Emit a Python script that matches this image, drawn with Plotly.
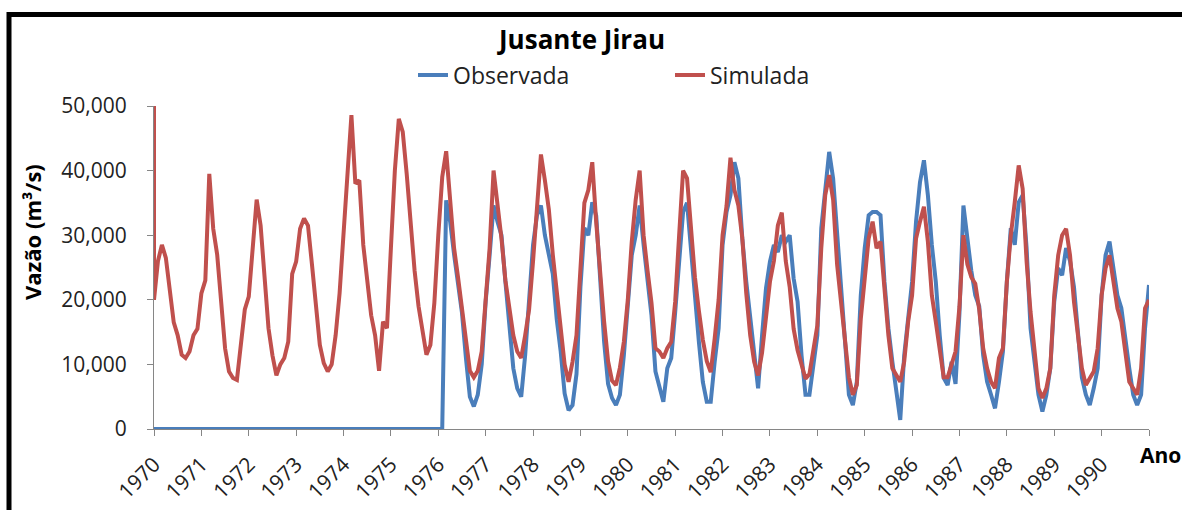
import plotly.graph_objects as go

# ---------------- data (monthly values) ----------------
year_labels = [str(y) for y in range(1970, 1991)] + [""]
year_ticks = list(range(1970, 1992))

sim_start_spike = 50000  # first value of the simulated series (1970.0)

simulada = (
    [20000, 26000, 28500, 26500, 21000, 16500, 14500, 11500, 11000, 12000, 14500, 15500]  # 1970
    + [21000, 23000, 39500, 31000, 27000, 19700, 12500, 8900, 7900, 7600, 12500, 18500]  # 1971
    + [20500, 29000, 35500, 31500, 22800, 15600, 11400, 8300, 10000, 11000, 13500, 24000]  # 1972
    + [25900, 31000, 32600, 31500, 25500, 18500, 13000, 10200, 8900, 10000, 14500, 21000]  # 1973
    + [30000, 41000, 48600, 38000, 38500, 28500, 22800, 17600, 14500, 9000, 16600, 15600]  # 1974
    + [28000, 40000, 48000, 46000, 39500, 32000, 24500, 19000, 15000, 11500, 13000, 19500]  # 1975
    + [30000, 39000, 43000, 36000, 28000, 23500, 18500, 13500, 9000, 8000, 9000, 12000]  # 1976
    + [20000, 28000, 40000, 35000, 29500, 23000, 18500, 14500, 12000, 11000, 14500, 18500]  # 1977
    + [26000, 34000, 42500, 38500, 34000, 27000, 21000, 16000, 10000, 7300, 10400, 14500]  # 1978
    + [26000, 35000, 37000, 41300, 32000, 23300, 16600, 10500, 7500, 6800, 9500, 13500]  # 1979
    + [20000, 29000, 35500, 40000, 30000, 24500, 19500, 12500, 12000, 11000, 12500, 13500]  # 1980
    + [19700, 30000, 40000, 38800, 31500, 23500, 18300, 13800, 10500, 8800, 14000, 20000]  # 1981
    + [30000, 34500, 42000, 37000, 34600, 29500, 21000, 14500, 10400, 8300, 11800, 18000]  # 1982
    + [22800, 26000, 31500, 33500, 26000, 22000, 15500, 12200, 10000, 7800, 8500, 12500]  # 1983
    + [16000, 28000, 36200, 39300, 35500, 25500, 19200, 14000, 8000, 5300, 6800, 17000]  # 1984
    + [22800, 29500, 32100, 28000, 29000, 20700, 14500, 9400, 8350, 7300, 10400, 16600]  # 1985
    + [20700, 29500, 32100, 34400, 29000, 20700, 16600, 12500, 8000, 8000, 10000, 12000]  # 1986
    + [19000, 30000, 25500, 23500, 22500, 18500, 12500, 9400, 7300, 6300, 11000, 12500]  # 1987
    + [22800, 30000, 35100, 40800, 37200, 25900, 18100, 12500, 6300, 4800, 6300, 9400]  # 1988
    + [20700, 26900, 30000, 31000, 26900, 19700, 14100, 9400, 6800, 7900, 8900, 12500]  # 1989
    + [20700, 24900, 26900, 22800, 18700, 16600, 11400, 7300, 6300, 5300, 9400, 18700]  # 1990
    + [20000]  # 1991-01
)

observada = (
    [0] * 12  # 1970
    + [0] * 12  # 1971
    + [0] * 12  # 1972
    + [0] * 12  # 1973
    + [0] * 12  # 1974
    + [0] * 12  # 1975
    + [0, 0, 35400, 32100, 27000, 22500, 18000, 11000, 5000, 3500, 5300, 10000]  # 1976
    + [19700, 26900, 34600, 32100, 30000, 22800, 15600, 9400, 6300, 5000, 11400, 20700]  # 1977
    + [28500, 33100, 34600, 30000, 27000, 24000, 17000, 12000, 5500, 2900, 3700, 8500]  # 1978
    + [22000, 31100, 30000, 35100, 33000, 23300, 13500, 7000, 4800, 3700, 5300, 11400]  # 1979
    + [19700, 26900, 30000, 34600, 28500, 22800, 17600, 8900, 6800, 4200, 9400, 11000]  # 1980
    + [18100, 25900, 33600, 35000, 27000, 20700, 13500, 7300, 4200, 4200, 10400, 15600]  # 1981
    + [28500, 33600, 36200, 41300, 38800, 29500, 22800, 17000, 12500, 6300, 14500, 21800]  # 1982
    + [25900, 28500, 27400, 30000, 29000, 30000, 23300, 19700, 11400, 5300, 5300, 10400]  # 1983
    + [14500, 31100, 37200, 42900, 38800, 30000, 21800, 14500, 5300, 3700, 7300, 20700]  # 1984
    + [28000, 33100, 33600, 33600, 33100, 22800, 15600, 10400, 6300, 1400, 11400, 16600]  # 1985
    + [22800, 32100, 38200, 41600, 36200, 28500, 22800, 14500, 7900, 6800, 10400, 7000]  # 1986
    + [18000, 34600, 29000, 24500, 20700, 19000, 11400, 7300, 5300, 3200, 7300, 12000]  # 1987
    + [22800, 31100, 28500, 35100, 36200, 28000, 15600, 10400, 5300, 2700, 5300, 9400]  # 1988
    + [19700, 24900, 23800, 28000, 26000, 22000, 15000, 8000, 5300, 3700, 6300, 9400]  # 1989
    + [20700, 26900, 29000, 24900, 20700, 18700, 13500, 9400, 5300, 3700, 5300, 15600]  # 1990
    + [22300]  # 1991-01
)

# monthly time axis in decimal years
months = [1970 + k / 12 for k in range(len(observada))]
sim_x = [1970.0] + months
sim_y = [sim_start_spike] + simulada

# ---------------- figure ----------------
W, H = 1182, 510
L, R, T, B = 154, 33, 106, 81
pw, ph = W - L - R, H - T - B


def px_x(p):
    return (p - L) / pw


def px_y(p):
    return (H - B - p) / ph


FONT = "Open Sans"
BLUE = "#4A7EBB"
RED = "#C0504D"

fig = go.Figure()
fig.add_trace(go.Scatter(x=months, y=observada, mode="lines", name="Observada",
                         line=dict(color=BLUE, width=4)))
fig.add_trace(go.Scatter(x=sim_x, y=sim_y, mode="lines", name="Simulada",
                         line=dict(color=RED, width=4)))

fig.update_layout(
    width=W, height=H,
    margin=dict(l=L, r=R, t=T, b=B, autoexpand=False),
    paper_bgcolor="white", plot_bgcolor="white",
    font=dict(family=FONT, color="#222222"),
    title=dict(text="<b>Jusante Jirau</b>", x=px_x(582), xref="paper",
               xanchor="center", y=1 - 40 / H, yref="container", yanchor="middle",
               font=dict(size=26, family=FONT, color="black")),
    legend=dict(orientation="h", x=px_x(413), xanchor="left", y=px_y(75),
                yanchor="middle", font=dict(size=23, family=FONT, color="#222222"),
                bgcolor="rgba(0,0,0,0)", entrywidth=212, entrywidthmode="pixels",
                tracegroupgap=0),
    showlegend=True,
)

fig.update_xaxes(range=[1970, 1991], tickmode="array", tickvals=year_ticks,
                 ticktext=year_labels, tickangle=-45, ticks="outside", ticklen=6,
                 tickcolor="#868686", showline=True, linecolor="#868686",
                 linewidth=1, showgrid=False, zeroline=False, automargin=False,
                 tickfont=dict(size=21, family=FONT, color="#222222"),
                 ticklabelstandoff=8)
fig.update_yaxes(range=[0, 50000], tickmode="array",
                 tickvals=[0, 10000, 20000, 30000, 40000, 50000],
                 ticktext=["0", "10,000", "20,000", "30,000", "40,000", "50,000"],
                 ticks="outside", ticklen=6, tickcolor="#868686",
                 showline=True, linecolor="#868686", linewidth=1,
                 showgrid=False, zeroline=False, automargin=False,
                 tickfont=dict(size=21, family=FONT, color="#222222"),
                 ticklabelstandoff=16)

# axis titles
fig.add_annotation(text="<b>Vazão (m³/s)</b>", x=px_x(32), y=px_y(232),
                   xref="paper", yref="paper", showarrow=False, textangle=-90,
                   font=dict(size=22, family=FONT, color="black"),
                   xanchor="center", yanchor="middle")
fig.add_annotation(text="<b>Ano</b>", x=px_x(1160), y=px_y(455),
                   xref="paper", yref="paper", showarrow=False,
                   font=dict(size=21, family=FONT, color="black"),
                   xanchor="center", yanchor="middle")

# chart frame (partly outside the picture, as in the reference)
fig.add_shape(type="rect", xref="paper", yref="paper",
              x0=px_x(9), x1=px_x(1195), y0=px_y(520), y1=px_y(14.5),
              line=dict(color="black", width=5), fillcolor="rgba(0,0,0,0)",
              layer="above")

fig.write_html("out.html")
